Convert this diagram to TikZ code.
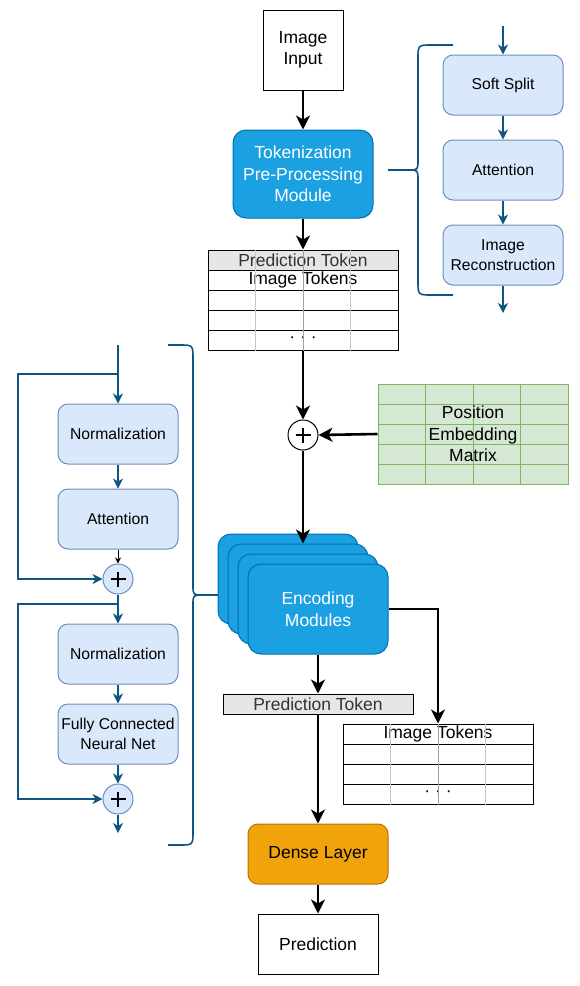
\documentclass[tikz,border=0pt]{standalone}
\usepackage{fontspec}
\setmainfont{Liberation Sans}
\usetikzlibrary{arrows.meta,calc}

\definecolor{tokblue}{HTML}{1BA1E2}
\definecolor{tokedge}{HTML}{006EAF}
\definecolor{lightblue}{HTML}{DAE8FC}
\definecolor{lightedge}{HTML}{6C8EBF}
\definecolor{linkblue}{HTML}{10557F}
\definecolor{lightgreen}{HTML}{D5E8D4}
\definecolor{greenedge}{HTML}{82B366}
\definecolor{denseorange}{HTML}{F0A30A}
\definecolor{denseedge}{HTML}{BD7000}
\definecolor{rowgray}{HTML}{E6E6E6}
\definecolor{textgray}{HTML}{333333}
\definecolor{sideline}{HTML}{C8C8C8}
\definecolor{midline}{HTML}{A0A0A0}

\tikzset{
  bigtext/.style={font=\fontsize{17.5}{21.5}\selectfont, align=center},
  smalltext/.style={font=\fontsize{15.7}{20}\selectfont, align=center},
  inputbox/.style={bigtext, draw=black, line width=1pt, fill=white, inner sep=0pt},
  modulebox/.style={bigtext, draw=tokedge, fill=tokblue, text=white, rounded corners=13pt, minimum width=140pt, inner sep=0pt, line width=1pt},
  stepbox/.style={smalltext, draw=lightedge, fill=lightblue, rounded corners=10pt, minimum width=120pt, minimum height=60pt, inner sep=0pt, line width=1pt},
  tokenrow/.style={bigtext, draw=black, line width=1pt, fill=white, minimum width=190pt, minimum height=20pt, inner sep=0pt},
  gridrow/.style={draw=greenedge, line width=1pt, fill=lightgreen, minimum width=190pt, minimum height=20pt, inner sep=0pt},
  sumnode/.style={circle, inner sep=0pt, minimum size=30pt, line width=1pt,
    path picture={\draw[black, line width=2.8pt] (path picture bounding box.center) ++(-7.5pt,0pt) -- ++(15pt,0pt)
      (path picture bounding box.center) ++(0pt,-7.5pt) -- ++(0pt,15pt);}},
  flow/.style={-{Stealth[length=14pt,width=14pt,inset=4pt]}, line width=2.6pt, black},
  bluelink/.style={-{Stealth[length=10pt,width=10pt,inset=3pt]}, line width=1.6pt, linkblue},
  thinlink/.style={-{Stealth[length=6pt,width=6pt,inset=2pt]}, line width=1pt, black},
  bracepen/.style={line width=1.6pt, linkblue}
}

\begin{document}
\begin{tikzpicture}[x=1pt,y=-1pt]
	\useasboundingbox (0,0) rectangle (579,986);
	\node[inputbox, minimum width=80pt, minimum height=80pt] (img) at (303,50) {Image\\Input};
	\node[modulebox, minimum height=88pt] (tok) at (303,174) {Tokenization\\Pre-Processing\\Module};
	\node[tokenrow, fill=rowgray, text=textgray] (pred) at (303,260) {Prediction Token};
	\node[tokenrow] (toks) at (303,280) {Image Tokens};
	\node[tokenrow] (rowa) at (303,300) {};
	\node[tokenrow] (rowb) at (303,320) {};
	\node[tokenrow] (rowc) at (303,340) {· · ·};
	\foreach \f/\c in {0.25/sideline,0.5/midline,0.75/sideline}
		\draw[draw=\c, line width=1pt] ($(pred.north west)!\f!(pred.north east)$) -- ($(rowc.south west)!\f!(rowc.south east)$);
	\foreach \i in {1,...,5}
		\node[gridrow] (pos\i) at (473,374+20*\i) {};
	\foreach \f in {0.25,0.5,0.75}
		\draw[greenedge, line width=1pt] ($(pos1.north west)!\f!(pos1.north east)$) -- ($(pos5.south west)!\f!(pos5.south east)$);
	\node[bigtext] (posl) at (473,434) {Position\\Embedding\\Matrix};
	\node[sumnode, draw=black, fill=white] (sum) at (303,435) {};
	\foreach \i in {0,1,2}
		\node[modulebox, minimum height=90pt] (enc\i) at (288+10*\i,579+10*\i) {};
	\node[modulebox, minimum height=90pt] (enc) at (318,609) {Encoding\\Modules};
	\node[tokenrow, fill=rowgray, text=textgray] (pred2) at (318,704) {Prediction Token};
	\node[tokenrow] (toks2) at (438,734) {Image Tokens};
	\node[tokenrow] (rowd) at (438,754) {};
	\node[tokenrow] (rowe) at (438,774) {};
	\node[tokenrow] (rowf) at (438,794) {· · ·};
	\foreach \f/\c in {0.25/sideline,0.5/midline,0.75/sideline}
		\draw[draw=\c, line width=1pt] ($(toks2.north west)!\f!(toks2.north east)$) -- ($(rowf.south west)!\f!(rowf.south east)$);
	\node[modulebox, draw=denseedge, fill=denseorange, text=black, rounded corners=10pt, minimum height=60pt] (dense) at (318,854) {Dense Layer};
	\node[inputbox, minimum width=120pt, minimum height=60pt] (out) at (318,944) {Prediction};
	\draw[flow] (img) -- (tok);
	\draw[flow] (tok) -- (pred);
	\draw[flow] (rowc) -- (sum);
	\draw[flow] (pos3.west) -- (sum.east);
	\draw[flow] (sum) -- (sum |- enc1.north);
	\draw[flow] (enc) -- (pred2);
	\draw[flow] (enc.east) -| (toks2.north);
	\draw[flow] (pred2) -- (dense);
	\draw[flow] (dense) -- (out);
	\node[stepbox] (split) at (503,85) {Soft Split};
	\node[stepbox] (attn) at (503,170) {Attention};
	\node[stepbox] (recon) at (503,255) {Image\\Reconstruction};
	\coordinate (rin) at (503,26);
	\coordinate (rout) at (503,313);
	\draw[bluelink] (rin) -- (split);
	\draw[bluelink] (split) -- (attn);
	\draw[bluelink] (attn) -- (recon);
	\draw[bluelink] (recon) -- (rout);
	\draw[bracepen] (453,45) -- (432,45) .. controls (418,45) .. (418,59) -- (418,160) .. controls (418,170) .. (408,170) -- (388,170);
	\draw[bracepen] (408,170) .. controls (418,170) .. (418,180) -- (418,281) .. controls (418,295) .. (432,295) -- (453,295);
	\node[stepbox] (norma) at (118,434) {Normalization};
	\node[stepbox] (attb) at (118,519) {Attention};
	\node[sumnode, draw=lightedge, fill=lightblue] (suma) at (118,579) {};
	\node[stepbox] (normb) at (118,654) {Normalization};
	\node[stepbox] (fcnn) at (118,734) {Fully Connected\\Neural Net};
	\node[sumnode, draw=lightedge, fill=lightblue] (sumb) at (118,799) {};
	\coordinate (lin) at (118,345);
	\coordinate (splita) at (118,374);
	\coordinate (skipa) at (18,374);
	\coordinate (splitb) at (118,604);
	\coordinate (skipb) at (18,604);
	\coordinate (lout) at (118,833);
	\draw[bluelink] (lin) -- (norma);
	\draw[bluelink] (splita) -- (skipa) |- (suma.west);
	\draw[bluelink] (norma) -- (attb);
	\draw[thinlink] (attb) -- (suma);
	\draw[bluelink] (suma) -- (normb);
	\draw[bluelink] (splitb) -- (skipb) |- (sumb.west);
	\draw[bluelink] (normb) -- (fcnn);
	\draw[bluelink] (fcnn) -- (sumb);
	\draw[bluelink] (sumb) -- (lout);
	\draw[bracepen] (168,345) -- (179,345) .. controls (193,345) .. (193,359) -- (193,585) .. controls (193,595) .. (203,595) -- (218,595);
	\draw[bracepen] (203,595) .. controls (193,595) .. (193,605) -- (193,831) .. controls (193,845) .. (179,845) -- (168,845);
\end{tikzpicture}
\end{document}
